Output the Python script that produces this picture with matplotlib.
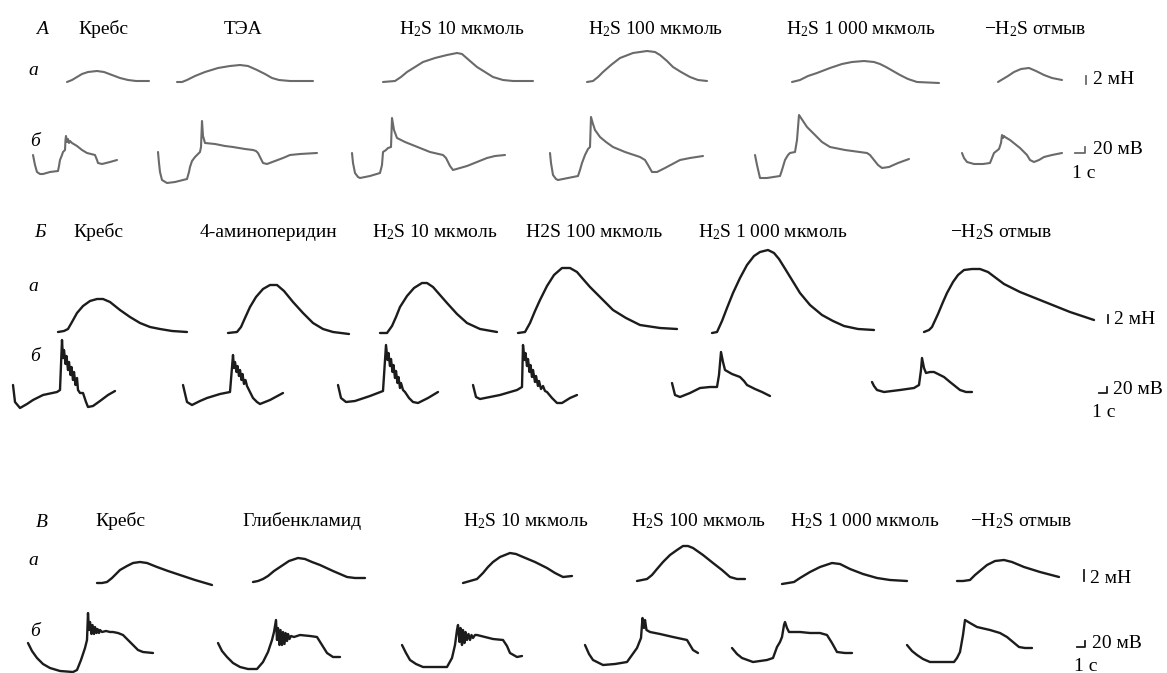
import matplotlib
matplotlib.use("Agg")
import matplotlib.pyplot as plt

plt.rcParams["font.family"] = ["Liberation Serif", "DejaVu Serif"]
plt.rcParams["mathtext.fontset"] = "custom"
plt.rcParams["mathtext.rm"] = "Liberation Serif"
plt.rcParams["mathtext.it"] = "Liberation Serif:italic"

W, H = 1167, 673

# ---------------- column titles ----------------
titles_A = ["Кребс", "ТЭА", "H$_2$S 10 мкмоль", "H$_2$S 100 мкмоль",
            "H$_2$S 1 000 мкмоль", "−H$_2$S отмыв"]
titles_B = ["Кребс", "4-аминоперидин", "H$_2$S 10 мкмоль", "H2S 100 мкмоль",
            "H$_2$S 1 000 мкмоль", "−H$_2$S отмыв"]
titles_V = ["Кребс", "Глибенкламид", "H$_2$S 10 мкмоль", "H$_2$S 100 мкмоль",
            "H$_2$S 1 000 мкмоль", "−H$_2$S отмыв"]
panel_letters = ["A", "Б", "В"]
row_letters = ["а", "б"]
force_label = "2 мН"
volt_label = "20 мВ"
time_label = "1 с"

# ---------------- traces: (time, signal) points ----------------
# Panel A, row a (contraction)
A_a = [
    [(67,82),(72,80),(77,77),(82,74),(88,72),(97,71),(104,72),(112,75),(120,78),(128,80),(136,81),(149,81)],
    [(177,82),(182,82),(187,80),(195,76),(205,72),(218,68),(230,66),(240,65),(248,66),(257,70),(265,74),(272,78),(279,80),(290,81),(313,81)],
    [(383,82),(395,81),(401,77),(407,72),(415,67),(423,62),(435,58),(447,55),(457,53),(462,54),(470,61),(477,67),(485,72),(493,77),(503,80),(513,81),(533,81)],
    [(587,82),(593,81),(598,77),(603,72),(611,65),(620,58),(633,53),(647,51),(655,52),(660,55),(667,61),(673,67),(681,72),(690,77),(698,80),(707,81)],
    [(792,82),(800,80),(808,76),(817,73),(830,68),(842,64),(852,62),(864,61),(874,62),(880,64),(886,67),(893,71),(900,75),(908,79),(917,82),(939,83)],
    [(998,82),(1003,79),(1008,76),(1014,72),(1021,69),(1029,68),(1036,71),(1044,75),(1052,78),(1062,80)],
]
# Panel A, row б (membrane potential)
A_b = [
    [(33,155),(35,165),(37,172),(40,174),(43,174),(50,172),(58,171),(59,166),(60,160),(62,155),(63,152),(65,150),(65.5,140),(66,136),(67,142),(68,139),(69,143),(70,141),(72,143),(77,146),(82,150),(87,153),(95,155),(97,160),(98,163),(102,164),(110,162),(117,160)],
    [(158,152),(159,163),(160,172),(162,180),(167,183),(175,182),(187,179),(189,172),(190,167),(192,161),(195,157),(198,154),(200,152),(201,147),(202,121),(203,136),(205,143),(215,144),(225,146),(233,147),(245,149),(253,150),(256,151),(258,153),(261,159),(263,163),(267,164),(275,161),(283,158),(290,155),(300,154),(317,153)],
    [(352,153),(353,163),(355,173),(358,177),(360,178),(370,176),(380,173),(382,165),(383,152),(386,150),(388,148),(391,147),(392,118),(394,130),(397,138),(405,142),(415,146),(430,152),(443,155),(446,158),(448,162),(450,166),(453,170),(460,168),(467,166),(477,162),(487,158),(495,156),(505,155)],
    [(550,153),(551,163),(553,175),(556,179),(558,180),(568,178),(578,176),(580,170),(582,163),(585,155),(588,149),(590,147),(591,117),(593,124),(595,130),(600,137),(606,142),(613,147),(625,152),(640,157),(645,160),(648,165),(652,172),(657,172),(665,168),(680,160),(690,158),(703,156)],
    [(755,155),(757,165),(760,178),(767,178),(780,176),(782,170),(785,160),(788,155),(790,153),(795,152),(797,140),(799,115),(803,121),(807,127),(815,135),(822,142),(830,147),(845,150),(867,153),(870,155),(874,160),(878,165),(882,168),(889,167),(898,163),(909,159)],
    [(962,153),(964,158),(967,162),(974,164),(983,164),(990,163),(992,158),(994,153),(999,149),(1001,143),(1002,135),(1003,138),(1004,136),(1005,137),(1010,140),(1015,144),(1020,148),(1024,152),(1027,155),(1030,160),(1034,162),(1039,160),(1044,157),(1052,155),(1062,153)],
]
# Panel Б, row a
B_a = [
    [(58,332),(64,331),(68,329),(72,322),(77,313),(83,306),(90,301),(97,299),(103,299),(110,302),(120,310),(130,317),(140,323),(150,327),(160,329),(172,331),(187,332)],
    [(228,333),(237,332),(241,327),(245,318),(250,307),(256,297),(263,289),(270,285),(277,285),(284,291),(293,302),(303,313),(313,323),(323,329),(333,332),(349,334)],
    [(380,333),(387,333),(392,326),(396,317),(400,307),(407,296),(414,288),(422,283),(427,283),(433,287),(440,295),(447,303),(457,314),(467,323),(480,329),(497,332)],
    [(518,333),(525,332),(530,323),(535,311),(540,300),(547,286),(554,275),(562,268),(570,268),(577,272),(583,279),(590,287),(600,297),(613,310),(626,318),(640,325),(660,328),(677,329)],
    [(712,333),(717,332),(722,321),(727,308),(733,293),(740,278),(747,265),(754,256),(760,252),(768,250),(774,253),(779,259),(784,267),(792,280),(800,293),(810,305),(822,315),(833,321),(844,326),(858,329),(874,330)],
    [(924,332),(929,330),(932,327),(938,314),(943,302),(947,293),(953,282),(958,275),(964,270),(972,269),(980,269),(988,272),(996,278),(1004,284),(1010,287),(1020,292),(1030,296),(1040,300),(1055,306),(1070,312),(1094,320)],
]
# Panel Б, row б
B_b = [
    [(13,385),(15,402),(20,408),(27,404),(33,400),(43,395),(57,392),(60,390),(62,340),(63,358),(64,350),(65.5,364),(66.5,356),(68,370),(69,362),(70.5,375),(71.5,367),(73,380),(74,372),(75.5,385),(77,378),(78,390),(80,393),(83,393),(86,402),(88,407),(93,406),(100,401),(108,395),(115,391)],
    [(183,385),(187,402),(192,405),(200,401),(207,398),(220,394),(230,392),(233,355),(234,368),(235,362),(236.5,372),(237.5,366),(239,376),(240,370),(241.5,380),(242.5,374),(244,384),(245.5,380),(247,386),(250,392),(253,398),(257,402),(260,404),(270,400),(283,393)],
    [(338,385),(341,398),(346,402),(355,401),(370,396),(383,391),(386,345),(387.5,360),(388.5,353),(390,366),(391,359),(392.5,372),(393.5,365),(395,378),(396,371),(397.5,383),(398.5,377),(400,388),(401,383),(403,390),(405,392),(409,398),(413,402),(418,403),(428,398),(438,392)],
    [(473,385),(476,397),(480,399),(500,395),(517,390),(522,387),(523,345),(524.5,360),(525.5,353),(527,366),(528,359),(529.5,372),(530.5,365),(532,377),(533,370),(535,382),(536,376),(538,386),(539,381),(541,389),(543,386),(545,391),(547,392),(552,398),(557,403),(562,403),(570,398),(577,395)],
    [(672,383),(675,395),(680,397),(690,393),(700,388),(710,387),(717,387),(719,375),(721,352),(723,362),(725,370),(732,374),(740,377),(744,381),(747,385),(755,389),(762,392),(770,396)],
    [(872,382),(874,386),(877,390),(884,392),(900,390),(914,388),(919,385),(921,370),(922,358),(924,368),(926,373),(930,372),(934,372),(940,375),(944,377),(950,382),(955,386),(960,390),(966,392),(972,392)],
]
# Panel В, row a
V_a = [
    [(97,583),(102,583),(107,582),(112,578),(116,574),(120,570),(127,566),(133,563),(140,562),(147,563),(157,567),(168,571),(180,575),(195,580),(212,585)],
    [(253,582),(258,581),(263,579),(268,576),(274,571),(280,567),(289,561),(298,558),(305,559),(312,562),(320,565),(333,571),(347,577),(355,578),(365,578)],
    [(463,583),(470,581),(477,579),(483,573),(488,567),(493,562),(500,557),(510,553),(516,554),(523,557),(535,562),(547,568),(555,573),(563,577),(572,576)],
    [(637,581),(642,580),(647,579),(652,575),(657,569),(663,562),(670,555),(677,550),(683,546),(688,546),(693,548),(703,555),(713,563),(722,570),(730,577),(737,579),(745,579)],
    [(782,584),(788,583),(794,582),(800,578),(805,575),(810,572),(820,567),(832,563),(840,564),(850,569),(863,574),(877,578),(890,580),(907,581)],
    [(957,581),(963,581),(970,580),(975,575),(981,570),(987,565),(995,561),(1004,560),(1012,562),(1024,567),(1040,572),(1059,577)],
]
# Panel В, row б
V_b = [
    [(28,643),(32,651),(37,658),(43,664),(50,668),(60,671),(73,672),(77,670),(81,660),(85,648),(87,640),(88,613),(89,630),(90,622),(91.5,634),(92.5,625),(94,634),(95,627),(96.5,633),(97.5,629),(99,633),(100,630),(102,632),(106,631),(110,632),(113,632),(118,633),(123,635),(128,640),(133,645),(138,650),(143,652),(153,653)],
    [(218,643),(222,651),(227,657),(233,663),(240,667),(248,669),(257,669),(263,662),(268,652),(272,640),(274,632),(276,620),(277,640),(278,628),(279.5,645),(280.5,630),(282,645),(283,632),(284.5,644),(285.5,633),(287,641),(288,634),(289.5,639),(291,636),(294,637),(300,635),(310,636),(317,637),(322,645),(327,653),(333,657),(340,657)],
    [(402,645),(406,653),(410,660),(416,664),(423,667),(435,667),(447,667),(452,658),(455,645),(457,630),(458,625),(459.5,642),(460.5,628),(462,645),(463,630),(464.5,643),(465.5,632),(467,640),(468.5,634),(470,640),(471.5,635),(473,638),(475,635),(477,635),(485,637),(493,639),(503,640),(507,646),(510,653),(517,657),(522,656)],
    [(585,645),(589,654),(593,660),(603,665),(615,664),(627,662),(632,655),(637,648),(641,638),(642.5,618),(644,628),(645,620),(646.5,630),(650,632),(660,634),(673,637),(687,640),(690,645),(693,650),(698,653)],
    [(732,648),(737,654),(742,658),(753,662),(767,660),(773,658),(777,647),(780,642),(782,637),(784,625),(785,622),(787,628),(789,632),(800,632),(810,633),(820,633),(827,635),(832,643),(837,652),(845,653),(852,653)],
    [(907,645),(912,651),(917,655),(923,659),(930,662),(942,662),(954,662),(957,658),(960,652),(963,635),(965,620),(970,623),(977,627),(990,630),(1000,633),(1007,637),(1013,642),(1019,647),(1025,648),(1032,648)],
]

# ---------------- layout (positions / styles) ----------------
panels = [
    dict(rows=(A_a, A_b), titles=titles_A, color="#6a6a6a", lw=1.5,
         letter_xy=(42, 34), title_x=[103, 243, 462, 656, 861, 1035], title_y=34,
         row_xy=[(33, 75), (35, 146)],
         fbar=(1086, 76, 84), ftext=(1093, 84),
         vbar=(1075, 1085, 153, 147), vtext=(1093, 154), ttext=(1072, 178)),
    dict(rows=(B_a, B_b), titles=titles_B, color="#1c1c1c", lw=1.7,
         letter_xy=(40, 237), title_x=[98, 268, 435, 594, 773, 1001], title_y=237,
         row_xy=[(33, 291), (35, 361)],
         fbar=(1108, 315, 323), ftext=(1114, 324),
         vbar=(1099, 1107, 393, 387), vtext=(1113, 394), ttext=(1092, 417)),
    dict(rows=(V_a, V_b), titles=titles_V, color="#1c1c1c", lw=1.7,
         letter_xy=(42, 527), title_x=[120, 302, 526, 699, 865, 1021], title_y=526,
         row_xy=[(33, 565), (35, 636)],
         fbar=(1084, 570, 581), ftext=(1090, 583),
         vbar=(1077, 1085, 647, 641), vtext=(1092, 648), ttext=(1074, 671)),
]

fig = plt.figure(figsize=(W / 100, H / 100), dpi=100)
ax = fig.add_axes([0, 0, 1, 1])
ax.set_xlim(0, W)
ax.set_ylim(H, 0)
ax.axis("off")

FS = 14
for p, letter in zip(panels, panel_letters):
    for row in p["rows"]:
        for tr in row:
            xs, ys = zip(*tr)
            ax.plot(xs, ys, color=p["color"], lw=p["lw"], solid_joinstyle="round",
                    solid_capstyle="round")
    ax.text(*p["letter_xy"], letter, fontsize=FS, style="italic", ha="center", va="baseline")
    for t, x in zip(p["titles"], p["title_x"]):
        ax.text(x, p["title_y"], t, fontsize=FS, ha="center", va="baseline")
    for (x, y), r in zip(p["row_xy"], row_letters):
        ax.text(x, y, r, fontsize=FS, style="italic", ha="center", va="baseline")
    fx, fy0, fy1 = p["fbar"]
    ax.plot([fx, fx], [fy0, fy1], color=p["color"], lw=1.3)
    ax.text(*p["ftext"], force_label, fontsize=FS, ha="left", va="baseline")
    vx0, vx1, vy0, vy1 = p["vbar"]
    ax.plot([vx0, vx1, vx1], [vy0, vy0, vy1], color=p["color"], lw=1.3)
    ax.text(*p["vtext"], volt_label, fontsize=FS, ha="left", va="baseline")
    ax.text(*p["ttext"], time_label, fontsize=FS, ha="left", va="baseline")

fig.savefig("out.png", dpi=100, facecolor="white")
